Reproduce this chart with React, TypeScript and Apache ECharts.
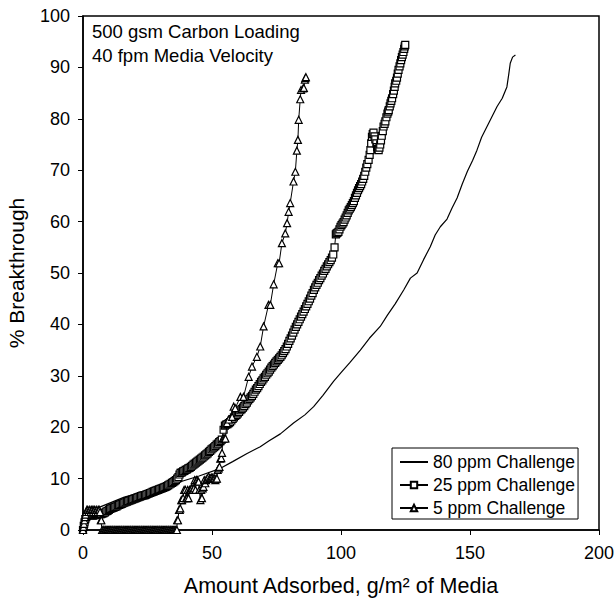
import React, { useEffect, useRef } from "react";
import * as echarts from "echarts";

const FONT = "Liberation Sans, Arial, sans-serif";

const xTicks = [0, 50, 100, 150, 200];
const yTicks = [0, 10, 20, 30, 40, 50, 60, 70, 80, 90, 100];

const seriesNames = ["80 ppm Challenge", "25 ppm Challenge", "5 ppm Challenge"];

const ppm80: [number, number][] = [
  [0, 0], [2, 3.5], [6.7, 4.5], [16, 6.4], [25, 7.6], [34, 8.8], [45, 10.5], [53.3, 12.0],
  [58, 13.3], [63.6, 14.9], [68.7, 16.2], [72, 17.3], [76.5, 18.7], [81.6, 20.8], [86, 22.4],
  [89.4, 24.0], [93, 26.2], [97.1, 28.9], [100, 30.6], [103.5, 32.6], [107.5, 35.0],
  [111, 37.3], [115.2, 39.6], [118, 41.8], [121, 44.0], [124.3, 46.7], [126.9, 49.0],
  [129.5, 50.0], [132, 52.6], [134.6, 55.1], [136.5, 57.4], [138.5, 59.0], [141.1, 60.5],
  [143, 62.6], [145.0, 64.6], [147, 67.3], [149, 69.8], [151, 71.9], [152.7, 73.9],
  [154.5, 76.4], [156.6, 78.5], [158.5, 80.4], [160.5, 82.4], [162.5, 84.0], [164.3, 86.2],
  [165.0, 88.6], [165.6, 90.8], [166.5, 92.0], [167.6, 92.4],
];

const ppm25: [number, number][] = [
  [0, 0], [0.3, 0.8], [0.6, 1.5], [0.9, 2.1], [1.2, 2.5], [1.5, 2.7], [1.8, 2.9], [2.2, 3],
  [2.6, 2.9], [3, 3], [3.4, 2.9], [3.8, 2.8], [4.2, 2.9], [4.6, 3], [5, 3], [5.4, 2.9],
  [5.8, 3], [6.2, 3], [6.6, 3.1], [7, 3.1], [7.5, 3.2], [8, 3.3], [8.5, 3.4], [9, 3.6],
  [9.5, 3.7], [10, 3.9], [10.5, 4.1], [11, 4.2], [11.5, 4.3], [12, 4.4], [12.5, 4.5],
  [13, 4.6], [13.5, 4.8], [14, 4.9], [14.5, 5], [15, 5.1], [15.5, 5.2], [16, 5.3],
  [16.5, 5.4], [17, 5.5], [17.5, 5.6], [18, 5.7], [18.5, 5.8], [19, 5.9], [19.5, 6],
  [20, 6.1], [20.5, 6.2], [21, 6.3], [21.5, 6.4], [22, 6.5], [22.5, 6.6], [23, 6.7],
  [23.5, 6.75], [24, 6.8], [24.5, 6.9], [25, 7], [25.5, 7.1], [26, 7.2], [26.5, 7.3],
  [27, 7.4], [27.5, 7.5], [28, 7.6], [28.5, 7.7], [29, 7.8], [29.5, 7.9], [30, 8],
  [30.5, 8.1], [31, 8.2], [31.5, 8.3], [32, 8.4], [32.5, 8.55], [33, 8.7], [33.5, 8.85],
  [34, 9], [34.5, 9.15], [35, 9.3], [35.5, 9.5], [36, 9.7], [36.5, 10], [37, 10.3],
  [37.4, 10.8], [37.8, 11.1], [38.3, 11.2], [38.8, 11.4], [39.3, 11.5], [39.8, 11.7],
  [40.3, 11.8], [40.8, 12], [41.3, 12.1], [41.8, 12.3], [42.3, 12.5], [42.8, 12.7],
  [43.3, 12.9], [43.8, 13.1], [44.3, 13.3], [44.8, 13.5], [45.3, 13.7], [45.8, 13.9],
  [46.3, 14.1], [46.8, 14.3], [47.3, 14.5], [47.8, 14.7], [48.3, 14.9], [48.8, 15.2],
  [49.3, 15.4], [49.8, 15.7], [50.3, 15.9], [50.8, 16.1], [51.3, 16.3], [51.8, 16.6],
  [52.3, 16.8], [52.8, 17.1], [53.3, 17.3], [53.8, 17.6], [54.5, 19.5], [55, 20.3],
  [55.5, 20.5], [56, 20.6], [56.5, 20.8], [57, 21], [57.5, 21.3], [58, 21.6], [58.5, 21.9],
  [59, 22.2], [59.5, 22.4], [60, 22.7], [60.5, 23], [61, 23.3], [61.5, 23.5], [62, 23.8],
  [62.5, 24.1], [63, 24.5], [63.5, 24.8], [64, 25.2], [64.5, 25.5], [65, 25.8],
  [65.5, 26.1], [66, 26.5], [66.5, 26.9], [67, 27.3], [67.5, 27.6], [68, 28], [68.5, 28.4],
  [69, 28.8], [69.5, 29.1], [70, 29.5], [70.5, 29.8], [71, 30.2], [71.5, 30.5], [72, 30.8],
  [72.5, 31.2], [73, 31.6], [73.5, 31.9], [74, 32.2], [74.5, 32.5], [75, 32.8], [75.5, 33.1],
  [76, 33.4], [76.5, 33.7], [77, 34], [77.5, 34.4], [78, 34.8], [78.5, 35.2], [79, 35.7],
  [79.5, 36.2], [80, 36.8], [80.5, 37.3], [81, 37.8], [81.5, 38.4], [82, 39], [82.5, 39.5],
  [83, 40], [83.5, 40.5], [84, 41], [84.5, 41.5], [85, 42], [85.5, 42.5], [86, 43],
  [86.5, 43.5], [87, 44], [87.5, 44.5], [88, 45], [88.5, 45.6], [89, 46.1], [89.5, 46.7],
  [90, 47.2], [90.5, 47.7], [91, 48.1], [91.5, 48.6], [92, 49], [92.5, 49.5], [93, 49.9],
  [93.5, 50.4], [94, 50.8], [94.5, 51.3], [95, 51.7], [95.5, 52.1], [96, 52.5], [96.5, 53],
  [97, 53.6], [97.5, 55], [98, 57.5], [98.3, 57.7], [98.6, 57.8], [99, 58], [99.4, 58.5],
  [99.8, 59], [100.2, 59.3], [100.6, 59.6], [101, 59.9], [101.4, 60.4], [101.8, 60.8],
  [102.2, 61.2], [102.6, 61.7], [103, 62.2], [103.4, 62.5], [103.8, 62.8], [104.2, 63.2],
  [104.6, 63.6], [105, 64], [105.4, 64.6], [105.8, 65.1], [106.2, 65.6], [106.6, 66.1],
  [107, 66.5], [107.4, 66.9], [107.8, 67.3], [108.2, 67.8], [108.6, 68.3], [109, 68.9],
  [109.4, 69.7], [109.8, 70.5], [110.2, 71.2], [110.7, 72], [111.1, 73], [111.4, 73.9],
  [111.7, 75.2], [112, 76.5], [112.3, 77], [112.6, 77.3], [113, 76.6], [113.3, 76],
  [113.7, 75.2], [114, 74.5], [114.3, 74.1], [114.6, 73.9], [114.9, 74.4], [115.2, 75],
  [115.5, 75.8], [115.8, 76.7], [116.2, 77.6], [116.5, 78.5], [116.9, 79], [117.2, 79.5],
  [117.6, 80.3], [118, 81], [118.3, 81.4], [118.5, 81.7], [118.9, 82.4], [119.2, 83],
  [119.5, 83.5], [119.8, 84], [120.2, 84.8], [120.5, 85.5], [120.8, 86.2], [121, 86.9],
  [121.4, 87.4], [121.7, 88], [122, 88.8], [122.3, 89.5], [122.7, 90.2], [123, 90.8],
  [123.3, 91.4], [123.6, 92], [123.9, 92.5], [124.2, 93], [124.5, 93.6], [124.7, 94.1],
  [124.9, 94.4],
];

const ppm5Start: [number, number][] = [
  [0, 0], [0.2, 0.6], [0.4, 1.2], [0.6, 1.9], [0.8, 2.5], [1, 3], [1.2, 3.5], [1.5, 3.9],
  [1.8, 3.9], [2.1, 3.5], [2.4, 3.9], [2.7, 3.9], [3, 3.5], [3.3, 3.9], [3.6, 3.9],
  [3.9, 3.5], [4.2, 3.9], [4.5, 3.9], [4.8, 3.5], [5.1, 3.9], [5.4, 3.9], [5.7, 3.5],
  [6, 3.9], [6.3, 3.9], [6.6, 3.5], [6.9, 1.9], [7.1, 1.9],
];

// x positions of the triangles lying on 0 % breakthrough
const ppm5FlatX = [
  7.4, 7.8, 8.1, 8.5, 8.8, 9.2, 9.5, 9.9, 10.2, 10.6, 10.9, 11.3, 11.6, 12, 12.3, 12.7, 13,
  13.4, 13.7, 14.1, 14.4, 14.8, 15.1, 15.5, 15.8, 16.2, 16.5, 16.9, 17.2, 17.6, 17.9, 18.3,
  18.6, 19, 19.3, 19.7, 20, 20.4, 20.7, 21.1, 21.4, 21.8, 22.1, 22.5, 22.8, 23.2, 23.5,
  23.9, 24.2, 24.6, 24.9, 25.3, 25.6, 26, 26.3, 26.7, 27, 27.4, 27.7, 28.1, 28.4, 28.8,
  29.1, 29.5, 29.8, 30.2, 30.5, 30.9, 31.2, 31.6, 31.9, 32.3, 32.6, 33, 33.3, 33.7, 34,
  34.4, 34.7, 35.1, 35.4, 35.8, 36.1, 36.4,
];

const ppm5Rise: [number, number][] = [
  [36.5, 1.9], [36.8, 1.9], [37.2, 3.9], [37.5, 3.9], [37.7, 4.2], [38.1, 5.8], [38.4, 5.8],
  [38.8, 6.2], [39.2, 7.8], [39.7, 7.8], [40, 6.2], [40.3, 6.2], [40.6, 7.8], [40.9, 6.2],
  [41.3, 7.8], [41.6, 7.8], [42, 8.1], [42.2, 8.1], [42.6, 7.8], [43, 8.1], [43.3, 9.7],
  [43.6, 7.8], [44, 9.7], [44.2, 9.7], [44.5, 9.4], [44.8, 9.4], [45.1, 7.8], [45.5, 5.8],
  [45.8, 7.8], [46.1, 6.2], [46.4, 8.1], [46.7, 8.4], [47, 9.7], [47.4, 9.1], [47.7, 9.7],
  [48.1, 10], [48.4, 10], [48.7, 10.4], [49, 10], [49.4, 10], [49.7, 10.2], [50.1, 10.2],
  [50.4, 10], [50.7, 10], [51, 10], [51.3, 9.7], [51.6, 10], [51.9, 10], [52.2, 11.7],
  [52.6, 12], [52.9, 12.3], [53.2, 13.9], [53.6, 14], [53.9, 15], [54.2, 17.8],
  [54.5, 17.8], [54.9, 17.8], [55.2, 17.8], [55.8, 20.8], [56.5, 21.5], [57.8, 22],
  [58.4, 24], [59, 23.7], [61, 25.9], [62.2, 25.9], [64.2, 29.8], [65.5, 31.8], [67.4, 33.7],
  [68.7, 35.7], [70, 39.6], [71.9, 43.8], [72.6, 43.8], [73.9, 47.8], [75.5, 51.9], [76, 51.9],
  [77.1, 55.8], [78.4, 57.7], [79.1, 59.7], [79.7, 61.9], [80.3, 63.6], [81.6, 67.8],
  [82.3, 69.7], [82.9, 73.8], [83.3, 75.9], [83.6, 79.8], [84.2, 83.8], [84.5, 85.6],
  [85.3, 85.9], [85.6, 86], [86, 87.6], [86.2, 87.9], [86.4, 88.1],
];

const ppm5: [number, number][] = [
  ...ppm5Start,
  ...ppm5FlatX.map((x) => [x, 0] as [number, number]),
  ...ppm5Rise,
];

const annotationLines = ["500 gsm Carbon Loading", "40 fpm Media Velocity"];

export default function App() {
  const ref = useRef<HTMLDivElement>(null);
  useEffect(() => {
    if (!ref.current) return;
    const chart = echarts.init(ref.current, null, { renderer: "svg" });
    const markerStyle = { color: "#fff", borderColor: "#000", borderWidth: 1.2 };
    chart.setOption({
      animation: false,
      backgroundColor: "#fff",
      textStyle: { fontFamily: FONT, color: "#000" },
      grid: {
        left: 83, top: 16, width: 516, height: 514,
        show: true, borderColor: "#000", borderWidth: 1.5, backgroundColor: "transparent",
        containLabel: false, outerBoundsMode: "none",
      },
      xAxis: {
        type: "value", min: xTicks[0], max: xTicks[xTicks.length - 1], interval: 50,
        name: "Amount Adsorbed, g/m² of Media", nameLocation: "middle", nameGap: 45,
        nameTextStyle: { fontSize: 21.5, color: "#000", fontFamily: FONT },
        axisLine: { lineStyle: { color: "#000", width: 1.5 } },
        axisTick: { show: true, inside: false, length: 5, lineStyle: { color: "#000", width: 1 } },
        axisLabel: { fontSize: 18, color: "#000", margin: 14, fontFamily: FONT },
        splitLine: { show: false },
      },
      yAxis: {
        type: "value", min: yTicks[0], max: yTicks[yTicks.length - 1], interval: 10,
        name: "% Breakthrough", nameLocation: "middle", nameGap: 56, nameRotate: 90,
        nameTextStyle: { fontSize: 21, color: "#000", fontFamily: FONT },
        axisLine: { lineStyle: { color: "#000", width: 1.5 } },
        axisTick: { show: true, inside: false, length: 5, lineStyle: { color: "#000", width: 1 } },
        axisLabel: { fontSize: 18, color: "#000", margin: 13, fontFamily: FONT },
        splitLine: { show: false },
      },
      legend: {
        left: 392, top: 448, orient: "vertical",
        data: [
          { name: seriesNames[0], itemStyle: { color: "rgba(0,0,0,0)", borderColor: "rgba(0,0,0,0)", borderWidth: 0 } },
          { name: seriesNames[1] },
          { name: seriesNames[2] },
        ],
        backgroundColor: "#fff", borderColor: "#000", borderWidth: 1,
        padding: [5, 3, 2, 7], itemGap: 5, itemWidth: 28, itemHeight: 8,
        textStyle: { fontSize: 17.5, color: "#000", fontFamily: FONT, lineHeight: 18 },
      },
      graphic: [
        {
          type: "text", left: 92, top: 19,
          style: {
            text: annotationLines.join("\n"), fontSize: 18.5, lineHeight: 24,
            fontFamily: FONT, fill: "#000",
          },
        },
      ],
      series: [
        {
          name: seriesNames[0], type: "line", data: ppm80, symbol: "none",
          lineStyle: { color: "#000", width: 1.2 }, itemStyle: { color: "#000" }, z: 2,
        },
        {
          name: seriesNames[1], type: "line", data: ppm25, symbol: "rect", symbolSize: 7,
          lineStyle: { color: "#000", width: 1 }, itemStyle: markerStyle, z: 3,
        },
        {
          name: seriesNames[2], type: "line", data: ppm5, symbol: "triangle", symbolSize: 7,
          lineStyle: { color: "#000", width: 1 }, itemStyle: markerStyle, z: 4,
        },
      ],
    });
    return () => chart.dispose();
  }, []);
  return <div ref={ref} style={{ width: 615, height: 600, position: "absolute", left: 0, top: 0 }} />;
}
